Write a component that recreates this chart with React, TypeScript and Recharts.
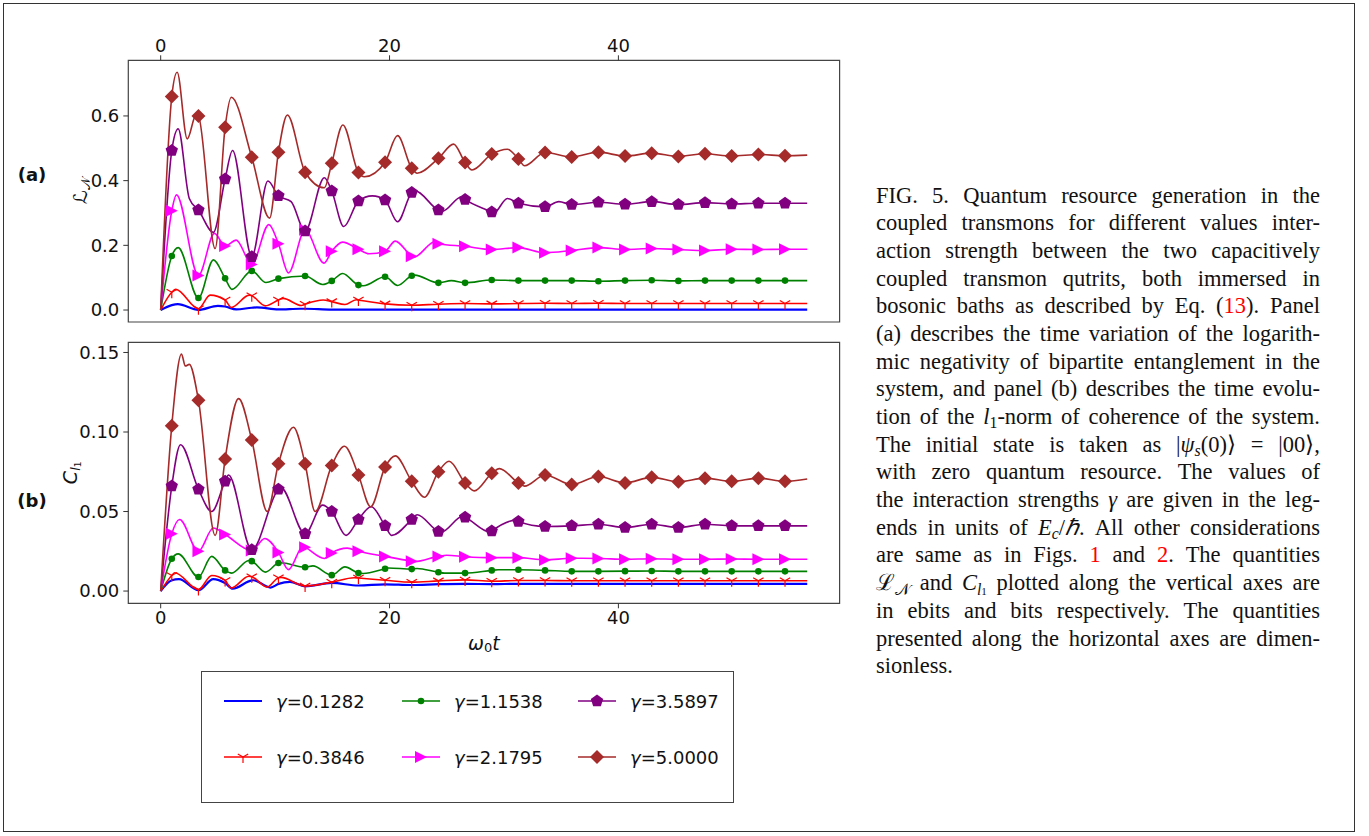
import React from 'react';
import { LineChart, Line, XAxis, YAxis, ReferenceArea } from 'recharts';

// times where markers sit (same for every series)
const MARK_T = [0.97, 3.3, 5.63, 7.96, 10.29, 12.62, 14.95, 17.28, 19.61, 21.94, 24.27, 26.6, 28.93, 31.26, 33.59, 35.92, 38.25, 40.58, 42.91, 45.24, 47.57, 49.9, 52.23, 54.56];

const GAMMAS = ['0.1282', '0.3846', '1.1538', '2.1795', '3.5897', '5.0000'];
const COLORS = ['#0000ff', '#ff0000', '#008000', '#ff00ff', '#800080', '#a52a2a'];
const MARKERS = ['none', 'tri', 'dot', 'right', 'pent', 'diamond'];

// panel (a): logarithmic negativity, values at MARK_T + extra turning points [t, v]
const A_BLUE = [0.015, 0.0005, 0.011, 0.007, 0.002, 0.004, 0.001, 0.001, 0.001, 0.001, 0.001, 0.001, 0.001, 0.001, 0.001, 0.001, 0.001, 0.001, 0.001, 0.001, 0.001, 0.001, 0.001, 0.001];
const A_BLUE_X = [[0, 0], [1.5, 0.018], [5.0, 0.013], [6.6, 0.002], [8.4, 0.008], [12.2, 0.004], [56.5, 0.001]];
const A_RED = [0.055, 0.004, 0.031, 0.044, 0.031, 0.018, 0.026, 0.031, 0.019, 0.015, 0.018, 0.02, 0.019, 0.02, 0.021, 0.02, 0.021, 0.02, 0.02, 0.02, 0.02, 0.02, 0.02, 0.02];
const A_RED_X = [[0, 0], [1.32, 0.064], [4.32, 0.046], [6.17, 0.008], [7.75, 0.046], [9.16, 0.013], [10.7, 0.036], [12.3, 0.014], [14.2, 0.031], [16.1, 0.017], [17.1, 0.032], [56.5, 0.02]];
const A_GREEN = [0.167, 0.037, 0.098, 0.121, 0.097, 0.105, 0.09, 0.077, 0.103, 0.106, 0.084, 0.084, 0.093, 0.091, 0.091, 0.091, 0.089, 0.091, 0.092, 0.09, 0.091, 0.091, 0.091, 0.091];
const A_GREEN_X = [[0, 0], [1.53, 0.193], [4.61, 0.155], [6.23, 0.064], [9.2, 0.085], [14.15, 0.079], [15.9, 0.113], [17.7, 0.075], [20.7, 0.076], [22.2, 0.108], [25.4, 0.091], [56.5, 0.091]];
const A_MAGENTA = [0.307, 0.107, 0.198, 0.141, 0.205, 0.248, 0.182, 0.188, 0.182, 0.166, 0.205, 0.197, 0.187, 0.193, 0.177, 0.184, 0.193, 0.187, 0.19, 0.187, 0.184, 0.188, 0.187, 0.188];
const A_MAGENTA_X = [[0, 0], [1.38, 0.356], [4.7, 0.237], [6.6, 0.216], [9.45, 0.264], [11.17, 0.115], [14.27, 0.145], [15.9, 0.21], [18.2, 0.174], [20.5, 0.213], [22.1, 0.163], [24.0, 0.212], [56.5, 0.188]];
const A_PURPLE = [0.493, 0.309, 0.405, 0.165, 0.353, 0.244, 0.368, 0.337, 0.34, 0.363, 0.309, 0.342, 0.303, 0.33, 0.319, 0.326, 0.333, 0.327, 0.335, 0.326, 0.332, 0.328, 0.33, 0.33];
const A_PURPLE_X = [[0, 0], [1.53, 0.56], [2.5, 0.345], [4.6, 0.24], [6.28, 0.493], [9.37, 0.399], [11.4, 0.335], [14.3, 0.409], [16.0, 0.258], [18.5, 0.353], [20.7, 0.273], [22.2, 0.369], [24.6, 0.305], [26.3, 0.35], [29.1, 0.3], [30.3, 0.345], [34.8, 0.335], [56.5, 0.33]];
const A_BROWN = [0.66, 0.6, 0.565, 0.472, 0.488, 0.426, 0.454, 0.425, 0.457, 0.438, 0.469, 0.456, 0.482, 0.467, 0.487, 0.473, 0.488, 0.476, 0.485, 0.475, 0.483, 0.476, 0.481, 0.477];
const A_BROWN_X = [[0, 0], [1.44, 0.735], [2.32, 0.529], [3.1, 0.604], [4.76, 0.19], [6.17, 0.658], [9.52, 0.284], [11.07, 0.603], [14.3, 0.378], [15.92, 0.572], [17.8, 0.412], [20.7, 0.539], [22.4, 0.423], [25.6, 0.513], [27.2, 0.433], [30.3, 0.497], [31.8, 0.446], [56.5, 0.479]];

// panel (b): l1-norm of coherence
const B_BLUE = [0.0068, 0.0005, 0.005, 0.0067, 0.0045, 0.003, 0.0051, 0.0035, 0.0042, 0.0038, 0.0043, 0.0045, 0.0044, 0.0045, 0.0045, 0.0045, 0.0045, 0.0045, 0.0045, 0.0045, 0.0045, 0.0045, 0.0045, 0.0045];
const B_BLUE_X = [[0, 0], [1.6, 0.0075], [4.6, 0.0075], [6.3, 0.0015], [8.1, 0.0068], [9.6, 0.0022], [11.3, 0.0058], [56.5, 0.0045]];
const B_RED = [0.0098, 0.001, 0.0067, 0.009, 0.0084, 0.0032, 0.0056, 0.0082, 0.0068, 0.0056, 0.0064, 0.007, 0.0062, 0.0066, 0.0066, 0.0065, 0.0065, 0.0065, 0.0065, 0.0065, 0.0065, 0.0065, 0.0065, 0.0065];
const B_RED_X = [[0, 0], [1.23, 0.0115], [4.46, 0.0098], [6.17, 0.0019], [7.7, 0.0093], [9.31, 0.0025], [10.5, 0.0086], [16.9, 0.0084], [56.5, 0.0065]];
const B_GREEN = [0.0203, 0.0088, 0.013, 0.0188, 0.0176, 0.015, 0.01, 0.0113, 0.014, 0.0138, 0.0118, 0.0113, 0.013, 0.0134, 0.013, 0.0124, 0.0124, 0.0125, 0.0126, 0.0124, 0.0124, 0.0124, 0.0124, 0.0124];
const B_GREEN_X = [[0, 0], [1.53, 0.0234], [4.46, 0.0218], [6.2, 0.0113], [7.7, 0.0192], [9.16, 0.0119], [10.5, 0.0178], [13.3, 0.0158], [16.1, 0.0152], [17.7, 0.011], [19.9, 0.0145], [22.4, 0.0142], [24.8, 0.0113], [29.5, 0.0134], [56.5, 0.0124]];
const B_MAGENTA = [0.036, 0.025, 0.0356, 0.0255, 0.0243, 0.0276, 0.024, 0.025, 0.0218, 0.0188, 0.0218, 0.0216, 0.021, 0.021, 0.0196, 0.0206, 0.0205, 0.02, 0.0203, 0.02, 0.02, 0.0202, 0.02, 0.02];
const B_MAGENTA_X = [[0, 0], [1.65, 0.045], [4.6, 0.0396], [9.1, 0.033], [11.17, 0.0135], [12.45, 0.0282], [14.3, 0.0205], [16.3, 0.027], [22.2, 0.0185], [25.0, 0.0225], [56.5, 0.02]];
const B_PURPLE = [0.066, 0.064, 0.069, 0.026, 0.064, 0.036, 0.05, 0.045, 0.041, 0.045, 0.0375, 0.0464, 0.0377, 0.0437, 0.0406, 0.041, 0.042, 0.04, 0.042, 0.04, 0.042, 0.041, 0.041, 0.041];
const B_PURPLE_X = [[0, 0], [1.73, 0.092], [4.46, 0.05], [5.93, 0.073], [10.5, 0.065], [14.15, 0.054], [16.2, 0.035], [18.4, 0.053], [20.2, 0.035], [22.4, 0.048], [24.5, 0.037], [26.4, 0.047], [28.8, 0.037], [31.0, 0.0445], [56.5, 0.041]];
const B_BROWN = [0.104, 0.12, 0.083, 0.095, 0.08, 0.08, 0.079, 0.073, 0.078, 0.069, 0.075, 0.068, 0.074, 0.068, 0.073, 0.067, 0.072, 0.068, 0.0715, 0.0687, 0.071, 0.069, 0.071, 0.069];
const B_BROWN_X = [[0, 0], [1.82, 0.149], [2.15, 0.1415], [2.5, 0.1425], [4.76, 0.035], [6.81, 0.121], [9.31, 0.05], [11.6, 0.103], [13.5, 0.05], [16.06, 0.091], [18.35, 0.053], [20.5, 0.085], [23.05, 0.059], [25.2, 0.0816], [27.4, 0.063], [29.6, 0.077], [31.8, 0.066], [56.5, 0.0705]];

const X_TICKS = [0, 20, 40];
const A_TICKS = [0, 0.2, 0.4, 0.6];
const B_TICKS = [0, 0.05, 0.1, 0.15];

const X_DOM: [number, number] = [-2.83, 59.33];
const A_DOM: [number, number] = [-0.037, 0.772];
const B_DOM: [number, number] = [-0.0077, 0.1564];

const AX_FONT = 'DejaVu Sans, sans-serif';

function build(marks: number[], extra: number[][]) {
  const pts = MARK_T.map((t, i) => ({ t, v: marks[i], m: true }));
  extra.forEach(([t, v]) => pts.push({ t, v, m: false }));
  return pts.sort((a, b) => a.t - b.t);
}

const PANEL_A = [
  build(A_BLUE, A_BLUE_X), build(A_RED, A_RED_X), build(A_GREEN, A_GREEN_X),
  build(A_MAGENTA, A_MAGENTA_X), build(A_PURPLE, A_PURPLE_X), build(A_BROWN, A_BROWN_X),
];
const PANEL_B = [
  build(B_BLUE, B_BLUE_X), build(B_RED, B_RED_X), build(B_GREEN, B_GREEN_X),
  build(B_MAGENTA, B_MAGENTA_X), build(B_PURPLE, B_PURPLE_X), build(B_BROWN, B_BROWN_X),
];

function Marker({ kind, cx, cy, color }: { kind: string; cx: number; cy: number; color: string }) {
  if (kind === 'tri') {
    const s = 6;
    return (
      <g stroke={color} strokeWidth={1.2}>
        <line x1={cx} y1={cy} x2={cx} y2={cy + s} />
        <line x1={cx} y1={cy} x2={cx - s * 0.866} y2={cy - s * 0.5} />
        <line x1={cx} y1={cy} x2={cx + s * 0.866} y2={cy - s * 0.5} />
      </g>
    );
  }
  if (kind === 'dot') return <circle cx={cx} cy={cy} r={3.3} fill={color} />;
  if (kind === 'right') {
    const s = 6;
    return <polygon points={`${cx + s},${cy} ${cx - s},${cy - s} ${cx - s},${cy + s}`} fill={color} />;
  }
  if (kind === 'pent') {
    const r = 6.5;
    const pts = [0, 1, 2, 3, 4]
      .map((k) => {
        const a = (-90 + 72 * k) * (Math.PI / 180);
        return `${cx + r * Math.cos(a)},${cy + r * Math.sin(a)}`;
      })
      .join(' ');
    return <polygon points={pts} fill={color} />;
  }
  if (kind === 'diamond') {
    const s = 7;
    return <polygon points={`${cx},${cy - s} ${cx + s},${cy} ${cx},${cy + s} ${cx - s},${cy}`} fill={color} />;
  }
  return null;
}

function seriesLines(panel: any[]) {
  return panel.map((data, i) => (
    <Line
      key={i}
      data={data}
      dataKey="v"
      type="monotone"
      stroke={COLORS[i]}
      strokeWidth={i === 0 ? 2.2 : 1.6}
      isAnimationActive={false}
      activeDot={false}
      dot={(p: any) =>
        p.payload && p.payload.m && MARKERS[i] !== 'none' ? (
          <g key={`d${i}-${p.index}`}>
            <Marker kind={MARKERS[i]} cx={p.cx} cy={p.cy} color={COLORS[i]} />
          </g>
        ) : (
          <g key={`d${i}-${p.index}`} />
        )
      }
    />
  ));
}

const tickStyle = { fontFamily: AX_FONT, fontSize: 18, fill: '#111' };

function LabelA(props: any) {
  const vb = props.viewBox || { y: 60, height: 262 };
  const cy = vb.y + vb.height / 2;
  return (
    <g fontFamily={AX_FONT} fill="#111">
      <text x={80} y={cy} transform={`rotate(-90 80 ${cy})`} textAnchor="middle" dominantBaseline="central" fontSize={19}>
        ℒ<tspan fontSize={13} dy={5}>𝒩</tspan>
      </text>
      <text x={32} y={cy - 17} textAnchor="middle" dominantBaseline="central" fontSize={18} fontWeight="bold">(a)</text>
    </g>
  );
}

function LabelB(props: any) {
  const vb = props.viewBox || { y: 12, height: 261 };
  const cy = vb.y + vb.height / 2;
  return (
    <g fontFamily={AX_FONT} fill="#111">
      <text x={70} y={cy} transform={`rotate(-90 70 ${cy})`} textAnchor="middle" dominantBaseline="central" fontSize={19}>
        <tspan fontStyle="italic">C</tspan>
        <tspan fontStyle="italic" fontSize={13} dy={5}>l</tspan>
        <tspan fontSize={9} dy={3}>1</tspan>
      </text>
      <text x={32} y={cy + 28} textAnchor="middle" dominantBaseline="central" fontSize={18} fontWeight="bold">(b)</text>
    </g>
  );
}

function XLabelB(props: any) {
  const vb = props.viewBox || { x: 128, width: 711, y: 273 };
  const cx = vb.x + vb.width / 2;
  return (
    <text x={cx} y={vb.y + 39.5} textAnchor="middle" dominantBaseline="central" fontFamily={AX_FONT} fontSize={19} fill="#111">
      <tspan fontStyle="italic">ω</tspan>
      <tspan fontSize={13} dy={4}>0</tspan>
      <tspan fontStyle="italic" dy={-4}>t</tspan>
    </text>
  );
}

function PanelA() {
  return (
    <LineChart width={860} height={340} margin={{ top: 20.3, right: 20.4, bottom: 18, left: 68.3 }}>
      <XAxis dataKey="t" type="number" orientation="top" height={40} domain={X_DOM} allowDataOverflow ticks={X_TICKS}
        tick={tickStyle} tickSize={5} tickMargin={3} axisLine={false} tickLine={{ stroke: '#333' }} />
      <YAxis type="number" width={60} domain={A_DOM} allowDataOverflow ticks={A_TICKS}
        tickFormatter={(v: number) => v.toFixed(1)} tick={tickStyle} tickSize={5} tickMargin={4}
        axisLine={false} tickLine={{ stroke: '#333' }} label={{ content: LabelA }} />
      <ReferenceArea x1={X_DOM[0]} x2={X_DOM[1]} y1={A_DOM[0]} y2={A_DOM[1]} fill="none" fillOpacity={0}
        stroke="#444" strokeWidth={1.2} ifOverflow="visible" />
      {seriesLines(PANEL_A)}
    </LineChart>
  );
}

function PanelB() {
  return (
    <LineChart width={860} height={340} margin={{ top: 12.3, right: 20.4, bottom: 26.7, left: 68.3 }}>
      <XAxis dataKey="t" type="number" orientation="bottom" height={40} domain={X_DOM} allowDataOverflow ticks={X_TICKS}
        tick={tickStyle} tickSize={5} tickMargin={3} axisLine={false} tickLine={{ stroke: '#333' }}
        label={{ content: XLabelB }} />
      <YAxis type="number" width={60} domain={B_DOM} allowDataOverflow ticks={B_TICKS}
        tickFormatter={(v: number) => v.toFixed(2)} tick={tickStyle} tickSize={5} tickMargin={4}
        axisLine={false} tickLine={{ stroke: '#333' }} label={{ content: LabelB }} />
      <ReferenceArea x1={X_DOM[0]} x2={X_DOM[1]} y1={B_DOM[0]} y2={B_DOM[1]} fill="none" fillOpacity={0}
        stroke="#444" strokeWidth={1.2} ifOverflow="visible" />
      {seriesLines(PANEL_B)}
    </LineChart>
  );
}

// legend columns: blue/red, green/magenta, purple/brown
const LEG_COL_X = [22, 200, 376];
const LEG_ROW_Y = [29, 85];

function LegendBox() {
  return (
    <div style={{ position: 'absolute', left: 201, top: 671, width: 531, height: 130, border: '1px solid #444', background: '#fff' }}>
      {GAMMAS.map((g, i) => {
        const col = Math.floor(i / 2);
        const row = i % 2;
        const x = LEG_COL_X[col];
        const y = LEG_ROW_Y[row];
        return (
          <div key={g} style={{ position: 'absolute', left: x, top: y - 12, height: 24, display: 'flex', alignItems: 'center' }}>
            <svg width={38} height={24} style={{ display: 'block' }}>
              <line x1={0} y1={12} x2={38} y2={12} stroke={COLORS[i]} strokeWidth={i === 0 ? 2.2 : 1.6} />
              <Marker kind={MARKERS[i]} cx={19} cy={12} color={COLORS[i]} />
            </svg>
            <span style={{ marginLeft: 14, fontFamily: AX_FONT, fontSize: 18, color: '#111', whiteSpace: 'nowrap' }}>
              <i>γ</i>={g}
            </span>
          </div>
        );
      })}
    </div>
  );
}

const red = (s: string) => <span style={{ color: '#ff0000' }}>{s}</span>;
const subStyle: React.CSSProperties = { fontSize: '0.7em', position: 'relative', top: '0.28em', lineHeight: 0 };
const Sub = ({ children }: { children: React.ReactNode }) => <span style={subStyle}>{children}</span>;

const w = (s: string) => s.split(' ');

const CAPTION: React.ReactNode[][] = [
  w('FIG. 5. Quantum resource generation in the'),
  w('coupled transmons for different values inter-'),
  w('action strength between the two capacitively'),
  w('coupled transmon qutrits, both immersed in'),
  [...w('bosonic baths as described by Eq.'), <>({red('13')}).</>, 'Panel'],
  w('(a) describes the time variation of the logarith-'),
  w('mic negativity of bipartite entanglement in the'),
  w('system, and panel (b) describes the time evolu-'),
  [...w('tion of the'), <><i>l</i><Sub>1</Sub>-norm</>, ...w('of coherence of the system.')],
  [...w('The initial state is taken as'), <>|<i>ψ</i><Sub><i>s</i></Sub>(0)⟩</>, '=', '|00⟩,'],
  w('with zero quantum resource. The values of'),
  [...w('the interaction strengths'), <i>γ</i>, ...w('are given in the leg-')],
  [...w('ends in units of'), <><i>E</i><Sub><i>c</i></Sub>/<i>ℏ</i>.</>, ...w('All other considerations')],
  [...w('are same as in Figs.'), red('1'), 'and', <>{red('2')}.</>, ...w('The quantities')],
  [<>ℒ<Sub>𝒩</Sub></>, 'and', <><i>C</i><Sub><i>l</i><span style={{ fontSize: '0.7em' }}>1</span></Sub></>, ...w('plotted along the vertical axes are')],
  w('in ebits and bits respectively. The quantities'),
  w('presented along the horizontal axes are dimen-'),
  w('sionless.'),
];

function Caption() {
  return (
    <div style={{ position: 'absolute', left: 876, top: 181.5, width: 444, fontFamily: '"Liberation Serif", serif', fontSize: 22.5, color: '#111' }}>
      {CAPTION.map((words, li) => (
        <div key={li} style={{ height: 27.7, lineHeight: '27.7px', display: 'flex', justifyContent: li === CAPTION.length - 1 ? 'flex-start' : 'space-between', whiteSpace: 'nowrap' }}>
          {words.map((wd, wi) => (
            <span key={wi}>{wd}</span>
          ))}
        </div>
      ))}
    </div>
  );
}

export default function App() {
  return (
    <div style={{ position: 'absolute', left: 0, top: 0, width: 1369, height: 836, background: '#fff', overflow: 'hidden' }}>
      <div style={{ position: 'absolute', left: 3, top: 3, width: 1350, height: 827, border: '1px solid #333' }} />
      <div style={{ position: 'absolute', left: 0, top: 0 }}>
        <PanelA />
      </div>
      <div style={{ position: 'absolute', left: 0, top: 330 }}>
        <PanelB />
      </div>
      <LegendBox />
      <Caption />
    </div>
  );
}
